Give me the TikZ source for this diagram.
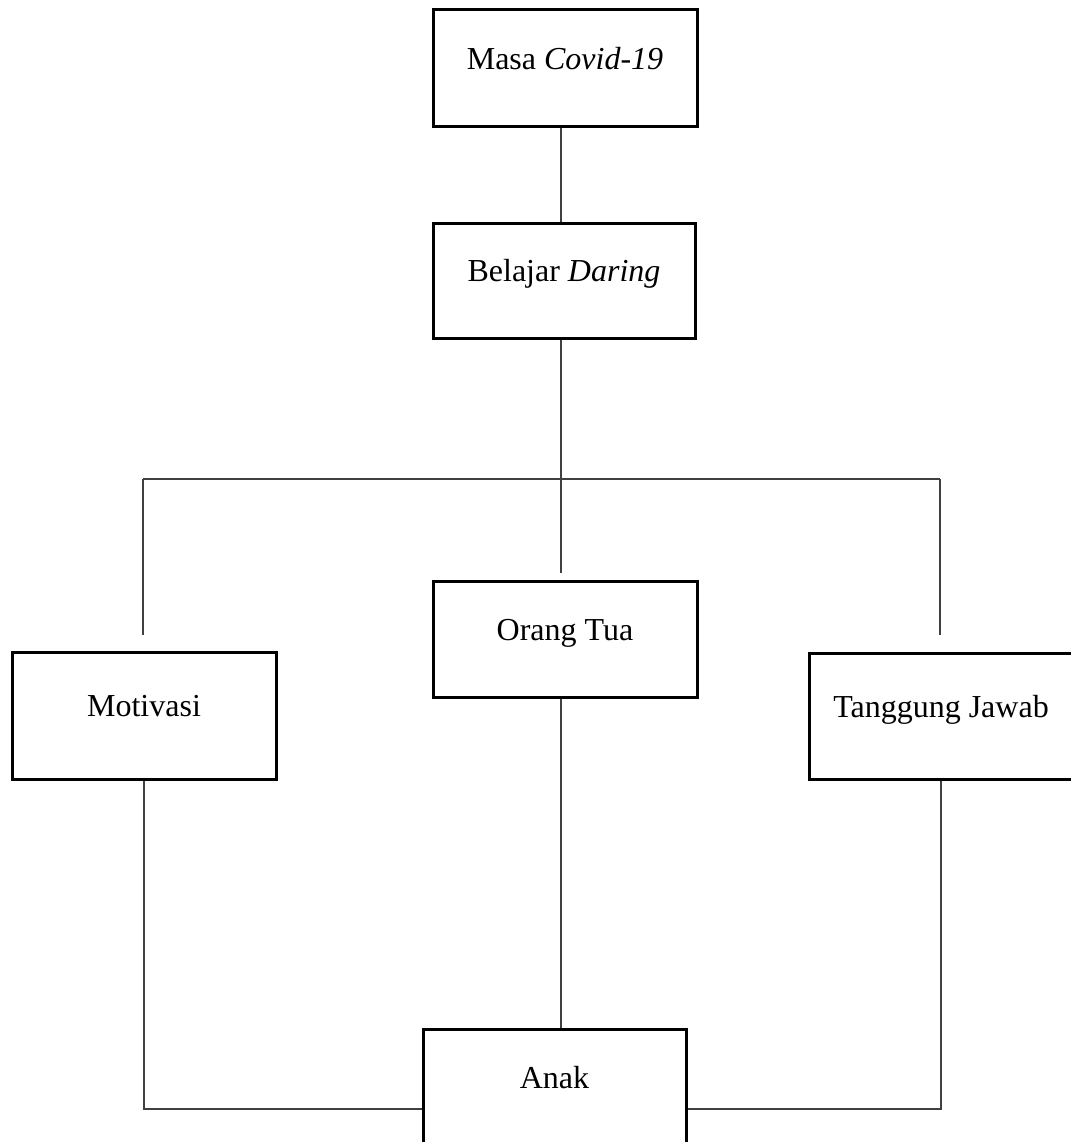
\documentclass[tikz,border=0pt]{standalone}
\usepackage{fontspec}
\setmainfont{Liberation Serif}
\usepackage{tikz}
\tikzset{
	kotak/.style={draw,line width=3pt,minimum width=264pt,minimum height=#1,inner sep=0pt,text height=23pt,text depth=21pt,font=\fontsize{32}{38}\selectfont},
	garis/.style={draw=black!75,line width=1.3pt}
}

\begin{document}
\begin{tikzpicture}[x=1pt,y=-1pt]
							\useasboundingbox (0,0) rectangle (1070,1142);
							\node [kotak=117pt] (masa) at (565,68.5) {Masa \textit{Covid-19}};
							\node [kotak=115pt,minimum width=262pt] (belajar) at (564,280.5) {Belajar \textit{Daring}};
							\node [kotak=116pt] (ortu) at (565,639) {Orang Tua};
							\node [kotak=127pt] (motivasi) at (144,715.5) {Motivasi};
							\node [kotak=126pt] (tanggung) at (941,716) {Tanggung Jawab};
							\node [kotak=116pt,minimum width=263pt] (anak) at (554.5,1087) {Anak};

							\coordinate (bagi) at (561,479);
							\coordinate (gabung) at (554,1109);
							\coordinate (ujungM) at (143,635);
							\coordinate (ujungO) at (561,573);
							\coordinate (ujungT) at (940,635);

							\draw [garis] (masa.south -| bagi) -- (belajar.north -| bagi);
							\draw [garis] (belajar.south -| bagi) -- (bagi);
							\draw [garis] (ujungM |- bagi) -- (ujungT |- bagi);
							\draw [garis] (ujungM |- bagi) -- (ujungM);
							\draw [garis] (bagi) -- (ujungO);
							\draw [garis] (ujungT |- bagi) -- (ujungT);

							\draw [garis] (ortu.south -| bagi) -- (anak.north -| bagi);
							\draw [garis] (motivasi.south) |- (anak.west |- gabung);
							\draw [garis] (tanggung.south) |- (anak.east |- gabung);
						\end{tikzpicture}
\end{document}
